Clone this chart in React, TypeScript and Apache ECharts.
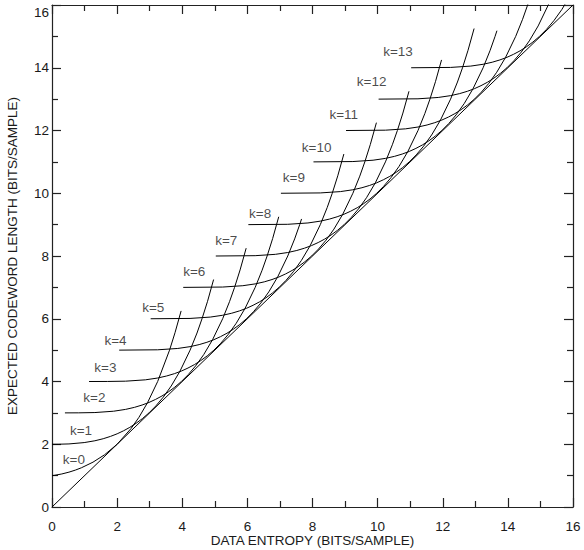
import React, { useEffect, useRef } from 'react';
import * as echarts from 'echarts';

// Expected codeword length (L) vs data entropy (H), one curve per Rice parameter k
const curveK0: [number, number][] = [
  [0, 1], [0.082, 1.01], [0.302, 1.053], [0.521, 1.111], [0.717, 1.176], [0.902, 1.25], [1.259, 1.429],
  [1.618, 1.667], [2.0, 2.0], [2.427, 2.5], [2.669, 2.857], [2.938, 3.333], [3.245, 4.0],
  [3.61, 5.0], [3.778, 5.556], [3.965, 6.25],
];
const curveK1: [number, number][] = [
  [0, 2], [0.209, 2.001], [0.521, 2.01], [0.988, 2.053], [1.317, 2.111], [1.572, 2.176], [1.795, 2.25],
  [2.001, 2.333], [2.197, 2.429], [2.389, 2.538], [2.582, 2.667], [2.777, 2.818], [2.979, 3.0],
  [3.19, 3.222], [3.416, 3.5], [3.661, 3.857], [3.932, 4.333], [4.241, 5.0], [4.453, 5.545],
  [4.607, 6.0], [4.777, 6.556], [4.963, 7.25],
];
const curveK2: [number, number][] = [
  [0.397, 3.0], [0.821, 3.001], [1.317, 3.01], [1.893, 3.053], [2.259, 3.111], [2.533, 3.176],
  [2.766, 3.25], [2.979, 3.333], [3.18, 3.429], [3.377, 3.538], [3.572, 3.667], [3.769, 3.818],
  [3.973, 4.0], [4.186, 4.222], [4.413, 4.5], [4.659, 4.857], [4.931, 5.333], [5.241, 6.0],
  [5.452, 6.545], [5.607, 7.0], [5.776, 7.556], [5.963, 8.25],
];
const curveK3: [number, number][] = [
  [1.138, 4.0], [1.699, 4.001], [2.259, 4.01], [2.868, 4.053], [3.244, 4.111], [3.522, 4.176],
  [3.759, 4.25], [3.974, 4.333], [4.176, 4.429], [4.374, 4.538], [4.57, 4.667], [4.768, 4.818],
  [4.972, 5.0], [5.185, 5.222], [5.412, 5.5], [5.658, 5.857], [5.93, 6.333], [6.24, 7.0],
  [6.452, 7.545], [6.607, 8.0], [6.776, 8.556], [6.963, 9.25],
];
const curveK4: [number, number][] = [
  [2.063, 5.0], [3.244, 5.01], [3.862, 5.053], [4.24, 5.111], [4.52, 5.176], [4.757, 5.25],
  [4.972, 5.333], [5.175, 5.429], [5.373, 5.538], [5.569, 5.667], [5.767, 5.818], [5.972, 6.0],
  [6.185, 6.222], [6.412, 6.5], [6.658, 6.857], [6.93, 7.333], [7.24, 8.0], [7.452, 8.545],
  [7.607, 9.0], [7.664, 9.181],
];
const curveK5: [number, number][] = [
  [3.03, 6], [4.239, 6.01], [4.86, 6.053], [5.239, 6.111], [5.519, 6.176], [5.756, 6.25],
  [5.972, 6.333], [6.175, 6.429], [6.373, 6.538], [6.569, 6.667], [6.767, 6.818], [6.972, 7],
  [7.185, 7.222], [7.412, 7.5], [7.658, 7.857], [7.93, 8.333], [8.24, 9], [8.452, 9.545],
  [8.607, 10], [8.776, 10.556], [8.963, 11.25],
];
const curveK6: [number, number][] = [
  [4.03, 7], [5.239, 7.01], [5.86, 7.053], [6.239, 7.111], [6.519, 7.176], [6.756, 7.25],
  [6.972, 7.333], [7.175, 7.429], [7.373, 7.538], [7.569, 7.667], [7.767, 7.818], [7.972, 8],
  [8.185, 8.222], [8.412, 8.5], [8.658, 8.857], [8.93, 9.333], [9.24, 10], [9.452, 10.545],
  [9.607, 11], [9.776, 11.556], [9.963, 12.25],
];
const curveK7: [number, number][] = [
  [5.03, 8], [6.239, 8.01], [6.86, 8.053], [7.239, 8.111], [7.519, 8.176], [7.756, 8.25],
  [7.972, 8.333], [8.175, 8.429], [8.373, 8.538], [8.569, 8.667], [8.767, 8.818], [8.972, 9],
  [9.185, 9.222], [9.412, 9.5], [9.658, 9.857], [9.93, 10.333], [10.24, 11], [10.452, 11.545],
  [10.607, 12], [10.776, 12.556], [10.963, 13.25],
];
const curveK8: [number, number][] = [
  [6.03, 9], [7.239, 9.01], [7.86, 9.053], [8.239, 9.111], [8.519, 9.176], [8.756, 9.25],
  [8.972, 9.333], [9.175, 9.429], [9.373, 9.538], [9.569, 9.667], [9.767, 9.818], [9.972, 10],
  [10.185, 10.222], [10.412, 10.5], [10.658, 10.857], [10.93, 11.333], [11.24, 12], [11.452, 12.545],
  [11.607, 13], [11.776, 13.556], [11.963, 14.25],
];
const curveK9: [number, number][] = [
  [7.03, 10], [8.239, 10.01], [8.86, 10.053], [9.239, 10.111], [9.519, 10.176], [9.756, 10.25],
  [9.972, 10.333], [10.175, 10.429], [10.373, 10.538], [10.569, 10.667], [10.767, 10.818], [10.972, 11],
  [11.185, 11.222], [11.412, 11.5], [11.658, 11.857], [11.93, 12.333], [12.24, 13], [12.452, 13.545],
  [12.607, 14], [12.776, 14.556], [12.963, 15.25],
];
const curveK10: [number, number][] = [
  [8.03, 11], [9.239, 11.01], [9.86, 11.053], [10.239, 11.111], [10.519, 11.176], [10.756, 11.25],
  [10.972, 11.333], [11.175, 11.429], [11.373, 11.538], [11.569, 11.667], [11.767, 11.818], [11.972, 12],
  [12.185, 12.222], [12.412, 12.5], [12.658, 12.857], [12.93, 13.333], [13.24, 14], [13.452, 14.545],
  [13.607, 15], [13.664, 15.181],
];
const curveK11: [number, number][] = [
  [9.03, 12], [10.239, 12.01], [10.86, 12.053], [11.239, 12.111], [11.519, 12.176], [11.756, 12.25],
  [11.972, 12.333], [12.175, 12.429], [12.373, 12.538], [12.569, 12.667], [12.767, 12.818], [12.972, 13],
  [13.185, 13.222], [13.412, 13.5], [13.658, 13.857], [13.93, 14.333], [14.24, 15], [14.452, 15.545],
  [14.607, 16], [14.776, 16.556],
];
const curveK12: [number, number][] = [
  [10.03, 13], [11.239, 13.01], [11.86, 13.053], [12.239, 13.111], [12.519, 13.176], [12.756, 13.25],
  [12.972, 13.333], [13.175, 13.429], [13.373, 13.538], [13.569, 13.667], [13.767, 13.818], [13.972, 14],
  [14.185, 14.222], [14.412, 14.5], [14.658, 14.857], [14.93, 15.333], [15.24, 16], [15.452, 16.545],
];
const curveK13: [number, number][] = [
  [11.03, 14], [12.239, 14.01], [12.86, 14.053], [13.239, 14.111], [13.519, 14.176], [13.756, 14.25],
  [13.972, 14.333], [14.175, 14.429], [14.373, 14.538], [14.569, 14.667], [14.767, 14.818], [14.972, 15],
  [15.185, 15.222], [15.412, 15.5], [15.658, 15.857], [15.93, 16.333],
];
const entropyBound: [number, number][] = [[0, 0], [16, 16]];

const curveLabels = ['k=0', 'k=1', 'k=2', 'k=3', 'k=4', 'k=5', 'k=6', 'k=7', 'k=8', 'k=9', 'k=10', 'k=11', 'k=12', 'k=13'];
const labelEntropy = [0.33, 0.55, 0.96, 1.3, 1.61, 2.77, 4.03, 5.01, 6.05, 7.09, 7.67, 8.52, 9.36, 10.17];
const labelLength = [1.5, 2.43, 3.5, 4.45, 5.3, 6.37, 7.5, 8.48, 9.34, 10.5, 11.45, 12.5, 13.56, 14.52];

const axisMax = 16;
const axisStep = 2;

export default function App() {
  const ref = useRef<HTMLDivElement>(null);
  useEffect(() => {
    if (!ref.current) return;
    const chart = echarts.init(ref.current, null, { renderer: 'svg' });
    const font = '"Liberation Sans", Arial, Helvetica, sans-serif';
    const textColor = '#1a1a1a';
    const fs = 13.5;
    const curves = [curveK0, curveK1, curveK2, curveK3, curveK4, curveK5, curveK6, curveK7,
      curveK8, curveK9, curveK10, curveK11, curveK12, curveK13];

    const axisCommon = {
      type: 'value' as const,
      min: 0,
      max: axisMax,
      interval: axisStep,
      axisLine: { show: true, onZero: false, lineStyle: { color: '#222', width: 1.2 } },
      axisTick: { show: true, inside: true, length: 9, lineStyle: { color: '#222', width: 1.2 } },
      minorTick: { show: true, splitNumber: 2, length: 6, lineStyle: { color: '#222', width: 1.2 } },
      splitLine: { show: false },
      minorSplitLine: { show: false },
    };

    const series: any[] = curves.map((c) => ({
      type: 'line',
      data: c,
      showSymbol: false,
      symbol: 'none',
      silent: true,
      clip: true,
      lineStyle: { color: '#000', width: 1 },
    }));
    series.push({
      type: 'line',
      data: entropyBound,
      showSymbol: false,
      symbol: 'none',
      silent: true,
      lineStyle: { color: '#000', width: 1 },
    });
    series.push({
      type: 'scatter',
      symbolSize: 0,
      silent: true,
      data: curveLabels.map((t, i) => ({ value: [labelEntropy[i], labelLength[i]], name: t })),
      label: {
        show: true,
        position: [0, 0],
        align: 'left',
        verticalAlign: 'middle',
        formatter: (p: any) => p.name,
        fontFamily: font,
        fontSize: fs,
        color: textColor,
      },
    });

    chart.setOption({
      animation: false,
      backgroundColor: '#fff',
      grid: { left: 52, right: 11, top: 5, bottom: 43, containLabel: false, outerBoundsMode: 'none' },
      xAxis: [
        {
          ...axisCommon,
          position: 'bottom',
          name: 'DATA ENTROPY (BITS/SAMPLE)',
          nameLocation: 'middle',
          nameGap: 26,
          nameMoveOverlap: false,
          nameTextStyle: { fontFamily: font, fontSize: fs, color: textColor },
          axisLabel: { show: true, margin: 12, fontFamily: font, fontSize: fs, color: textColor },
        },
        {
          ...axisCommon,
          position: 'top',
          axisLabel: { show: false },
        },
      ],
      yAxis: [
        {
          ...axisCommon,
          position: 'left',
          name: 'EXPECTED CODEWORD LENGTH (BITS/SAMPLE)',
          nameLocation: 'middle',
          nameGap: 33,
          nameRotate: 90,
          nameMoveOverlap: false,
          nameTextStyle: { fontFamily: font, fontSize: fs, color: textColor },
          axisLabel: {
            show: true,
            margin: 3,
            fontFamily: font,
            fontSize: fs,
            color: textColor,
            formatter: (v: number) => (v === axisMax ? '' : String(v)),
          },
        },
        {
          ...axisCommon,
          position: 'right',
          axisLabel: { show: false },
        },
      ],
      graphic: [
        {
          type: 'text',
          x: 49,
          y: 5,
          style: {
            text: String(axisMax),
            align: 'right',
            verticalAlign: 'top',
            fontFamily: font,
            fontSize: fs,
            fill: textColor,
          },
        },
      ],
      series,
    });
    return () => chart.dispose();
  }, []);
  return <div ref={ref} style={{ position: 'fixed', left: 0, top: 0, width: 584, height: 550 }} />;
}
